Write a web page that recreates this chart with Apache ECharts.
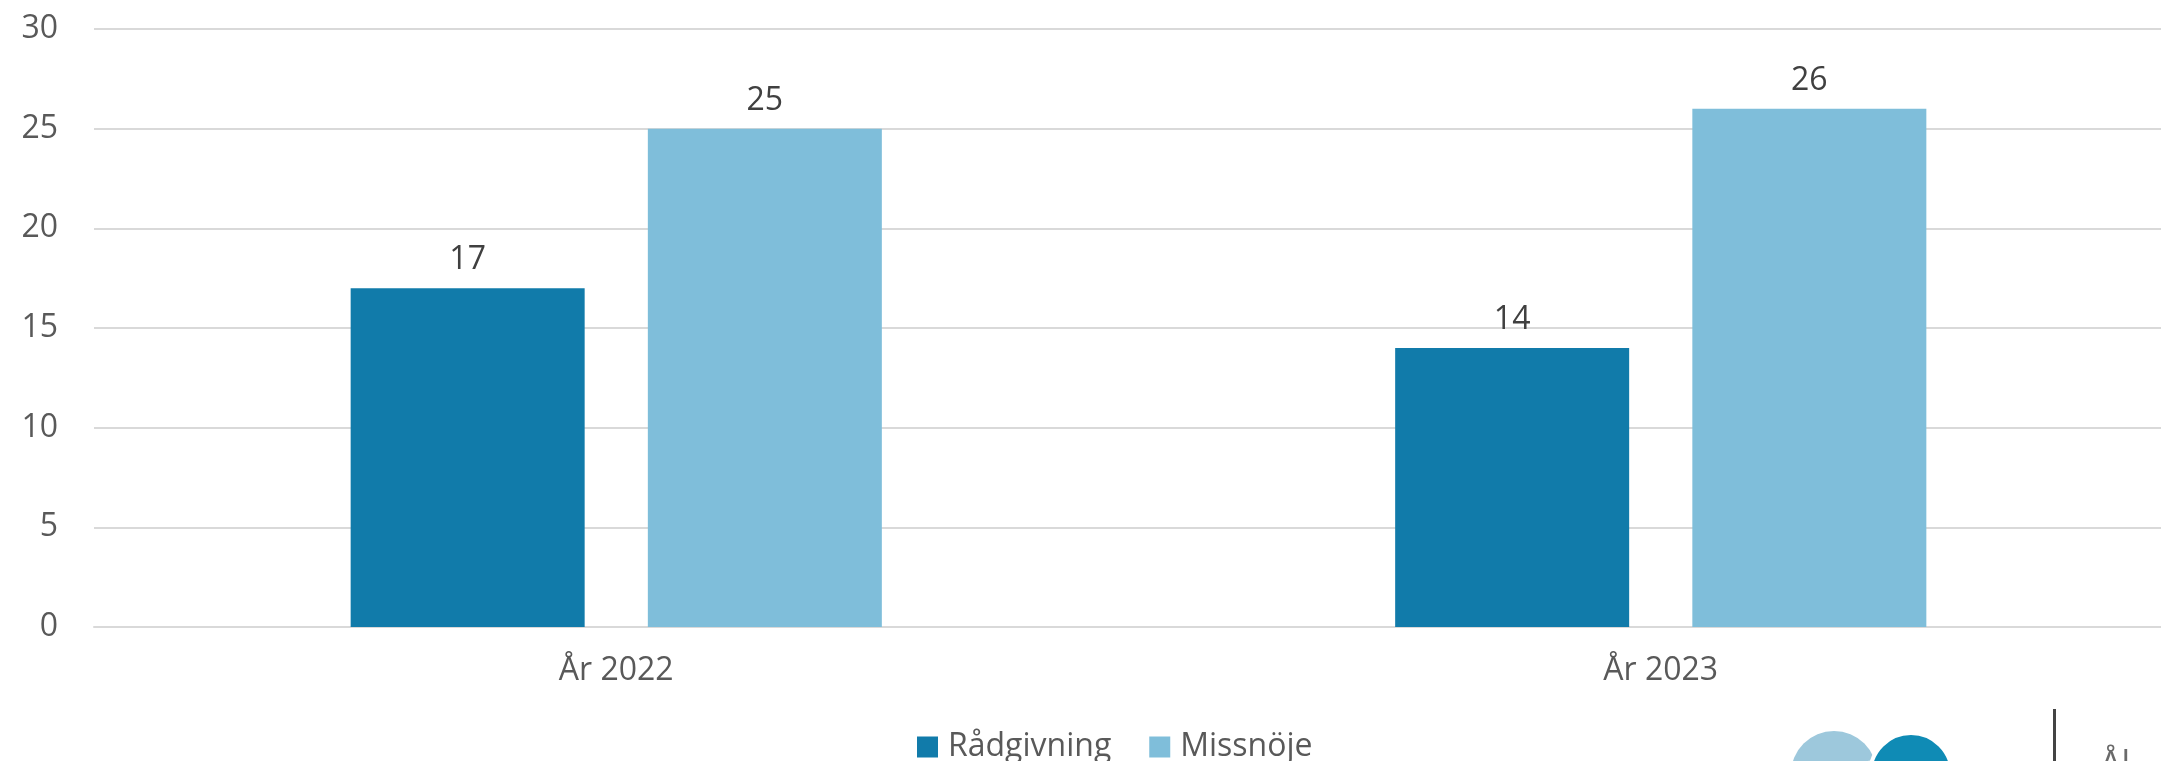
<!DOCTYPE html>
<html>
<head>
<meta charset="utf-8">
<script src="https://cdn.jsdelivr.net/npm/echarts@6/dist/echarts.min.js"></script>
<style>
  html, body { margin: 0; padding: 0; background: #fff; overflow: hidden; }
  /* the plot runs a little past the right edge of the window */
  #chart { width: 2200px; height: 761px; }
</style>
</head>
<body>
<div id="chart"></div>
<script>
// Ärenden per år, uppdelat på typ
const categories = ['År 2022', 'År 2023'];
const seriesNames = ['Rådgivning', 'Missnöje'];
const radgivning = [17, 14];
const missnoje = [25, 26];
const yTicks = [0, 5, 10, 15, 20, 25, 30];

const FONT = '"Open Sans", "Noto Sans", sans-serif';
const chart = echarts.init(document.getElementById('chart'), null, { renderer: 'canvas' });

const labelStyle = {
  show: true,
  position: 'top',
  distance: 12,
  color: '#404040',
  fontFamily: FONT,
  fontSize: 32
};

chart.setOption({
  animation: false,
  backgroundColor: '#ffffff',
  grid: { left: 94, right: 17, top: 29, bottom: 134, containLabel: false },
  legend: {
    data: seriesNames,
    top: 726,
    left: 912,
    itemWidth: 21,
    itemHeight: 21,
    itemGap: 38,
    icon: 'rect',
    textStyle: { color: '#595959', fontFamily: FONT, fontSize: 32, padding: [0, 0, 0, 5] }
  },
  xAxis: {
    type: 'category',
    data: categories,
    axisLine: { show: true, lineStyle: { color: '#d9d9d9', width: 2 } },
    axisTick: { show: false },
    axisLabel: { color: '#595959', fontFamily: FONT, fontSize: 32, margin: 28 }
  },
  yAxis: {
    type: 'value',
    min: yTicks[0],
    max: yTicks[yTicks.length - 1],
    interval: 5,
    axisLine: { show: false },
    axisTick: { show: false },
    splitLine: { lineStyle: { color: '#d9d9d9', width: 2 } },
    axisLabel: { color: '#595959', fontFamily: FONT, fontSize: 32, margin: 36 }
  },
  series: [
    {
      name: seriesNames[0],
      type: 'bar',
      data: radgivning,
      barWidth: 234,
      barGap: '27%',
      itemStyle: { color: '#117BAA' },
      label: labelStyle
    },
    {
      name: seriesNames[1],
      type: 'bar',
      data: missnoje,
      barWidth: 234,
      barGap: '27%',
      itemStyle: { color: '#7FBEDA' },
      label: labelStyle
    }
  ],
  graphic: [
    { type: 'circle', shape: { cx: 1834, cy: 774, r: 43 }, style: { fill: '#9DC8DC' }, silent: true },
    { type: 'circle', shape: { cx: 1911, cy: 774, r: 41 }, style: { fill: '#0F8BB5', stroke: '#ffffff', lineWidth: 4 }, silent: true },
    { type: 'circle', shape: { cx: 1871, cy: 772, r: 10 }, style: { fill: '#E8A628', stroke: '#ffffff', lineWidth: 3 }, silent: true },
    { type: 'rect', shape: { x: 2053, y: 709, width: 3, height: 60 }, style: { fill: '#444444' }, silent: true },
    { type: 'text', left: 2100, top: 748, style: { text: 'Ål', fill: '#6a6a6a', font: '34px ' + FONT }, silent: true }
  ]
});
</script>
</body>
</html>
